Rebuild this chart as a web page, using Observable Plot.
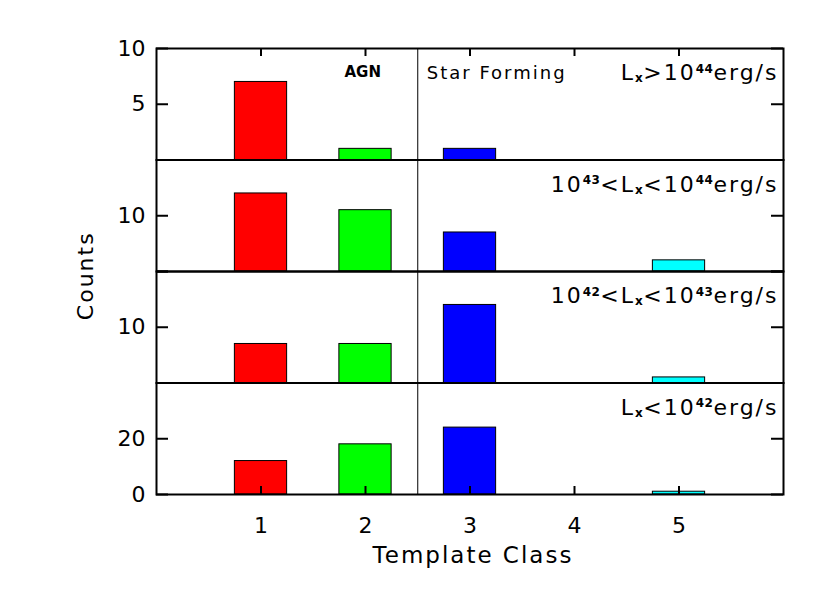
<!DOCTYPE html>
<html><head><meta charset="utf-8">
<script src="https://cdn.jsdelivr.net/npm/d3@7"></script>
<script src="https://cdn.jsdelivr.net/npm/@observablehq/plot@0.6"></script>
<style>
body{margin:0;background:#fff;}
#chart{position:relative;width:830px;height:593px;font-family:"DejaVu Sans",sans-serif;}
#chart svg{position:absolute;left:0;top:0;}
</style></head><body><div id="chart"></div>
<script>
// ---- data ----
const templateClasses = [1, 2, 3, 4, 5];
const classColors = ["#ff0000", "#00ff00", "#0000ff", "#ff00ff", "#00ffff"];
const panelLabels = ["Lₓ>10⁴⁴erg/s", "10⁴³<Lₓ<10⁴⁴erg/s", "10⁴²<Lₓ<10⁴³erg/s", "Lₓ<10⁴²erg/s"];
const countsHigh  = [7, 1, 1, 0, 0];
const countsMid   = [14, 11, 7, 0, 2];
const countsLow   = [7, 7, 14, 0, 1];
const countsFaint = [12, 18, 24, 0, 1];
const yMax = [10, 20, 20, 40];
const yTicks = [[0, 5, 10], [0, 10, 20], [0, 10, 20], [0, 20, 40]];
const yTickLabels = [[5, 10], [10], [10], [0, 20]];
const agnBoundary = [2.5];
const regionNames = ["AGN", "Star Forming"];
const xTitle = "Template Class";
const yTitle = "Counts";

const allCounts = [countsHigh, countsMid, countsLow, countsFaint];

// ---- layout ----
const W = 830, H = 593;
const plotLeft = 156, plotRight = 783, plotTop = 48, plotBottom = 494;
const ph = (plotBottom - plotTop) / 4;
const fw = plotRight - plotLeft;
const xMin = 0, xMax = 6;
const yTickLen = 12, xTickLen = 8;
const font = "DejaVu Sans, sans-serif";
const container = document.getElementById("chart");

const supMap = {"⁰":"0","¹":"1","²":"2","³":"3","⁴":"4","⁵":"5","⁶":"6","⁷":"7","⁸":"8","⁹":"9"};
const subMap = {"ₓ":"x"};
function richify(el) {
  const s = el.textContent;
  const runs = [];
  for (const ch of s) {
    const kind = supMap[ch] ? "sup" : subMap[ch] ? "sub" : "n";
    const c = supMap[ch] || subMap[ch] || ch;
    if (runs.length && runs[runs.length - 1].kind === kind) runs[runs.length - 1].t += c;
    else runs.push({kind, t: c});
  }
  el.textContent = "";
  let shift = 0;
  for (const r of runs) {
    const target = r.kind === "sup" ? -7.5 : r.kind === "sub" ? 2 : 0;
    const ts = d3.select(el).append("tspan").text(r.t);
    if (target - shift !== 0) ts.attr("dy", target - shift);
    shift = target;
    if (r.kind !== "n") ts.attr("font-size", 12).attr("font-weight", "bold").style("letter-spacing", "0.5px");
  }
}

allCounts.forEach((counts, i) => {
  const rows = templateClasses.map((c, j) => ({cls: c, count: counts[j]})).filter(d => d.count > 0);
  const pTop = plotTop + i * ph, pBottom = plotTop + (i + 1) * ph;
  const xPerPx = (xMax - xMin) / fw;
  const yPerPx = yMax[i] / ph;
  const marks = [
    Plot.rectY(rows, {x1: d => d.cls - 0.25, x2: d => d.cls + 0.25, y1: 0, y2: "count", fill: "cls", stroke: "black", strokeWidth: 1}),
    Plot.ruleX(agnBoundary, {stroke: "black", strokeWidth: 1}),
    Plot.ruleY(yTicks[i], {y: d => d, x1: xMin, x2: xMin + yTickLen * xPerPx, stroke: "black", strokeWidth: 2}),
    Plot.ruleY(yTicks[i], {y: d => d, x1: xMax - yTickLen * xPerPx, x2: xMax, stroke: "black", strokeWidth: 2}),
    Plot.axisY({anchor: "left", ticks: yTickLabels[i], tickSize: 0, tickPadding: 11, fontSize: 22, label: null}),
    Plot.text([panelLabels[i]], {frameAnchor: "top-right", dx: -5, dy: 16, fontSize: 22, textAnchor: "end", lineAnchor: "top", className: "plabel"}),
    Plot.frame({stroke: "black", strokeWidth: 2})
  ];
  if (i === 0) {
    marks.push(
      Plot.ruleX(templateClasses, {x: d => d, y1: yMax[i] - xTickLen * yPerPx, y2: yMax[i], stroke: "black", strokeWidth: 2}),
      Plot.text(agnBoundary, {x: d => d, frameAnchor: "top", dx: -55, dy: 18, text: () => regionNames[0], fontSize: 15, fontWeight: "bold", textAnchor: "middle", lineAnchor: "top"}),
      Plot.text(agnBoundary, {x: d => d, frameAnchor: "top", dx: 9, dy: 18, text: () => regionNames[1], fontSize: 18, textAnchor: "start", lineAnchor: "top", className: "spaced"})
    );
  }
  if (i === 1) {
    marks.push(Plot.text([yTitle], {frameAnchor: "left", dx: -71, dy: 60, rotate: -90, fontSize: 22, textAnchor: "middle", lineAnchor: "middle", className: "spaced"}));
  }
  if (i === 3) {
    marks.push(
      Plot.ruleX(templateClasses, {x: d => d, y1: 0, y2: xTickLen * yPerPx, stroke: "black", strokeWidth: 2}),
      Plot.axisX({anchor: "bottom", ticks: templateClasses, tickFormat: "d", tickSize: 0, tickPadding: 23, fontSize: 22, label: null}),
      Plot.text([xTitle], {frameAnchor: "bottom", dx: 3, dy: 61, fontSize: 23, textAnchor: "middle", lineAnchor: "middle", className: "spaced"})
    );
  }
  const svg = Plot.plot({
    width: W, height: H,
    marginLeft: plotLeft, marginRight: W - plotRight, marginTop: pTop, marginBottom: H - pBottom,
    style: {background: "transparent", fontFamily: font, color: "#000", overflow: "visible"},
    x: {domain: [xMin, xMax], axis: null},
    y: {domain: [0, yMax[i]], axis: null},
    color: {type: "ordinal", domain: templateClasses, range: classColors},
    marks
  });
  d3.select(svg).selectAll(".spaced text").style("letter-spacing", "2px");
  d3.select(svg).selectAll(".plabel text").style("letter-spacing", "2px").each(function() { richify(this); });
  container.appendChild(svg);
});
</script></body></html>
